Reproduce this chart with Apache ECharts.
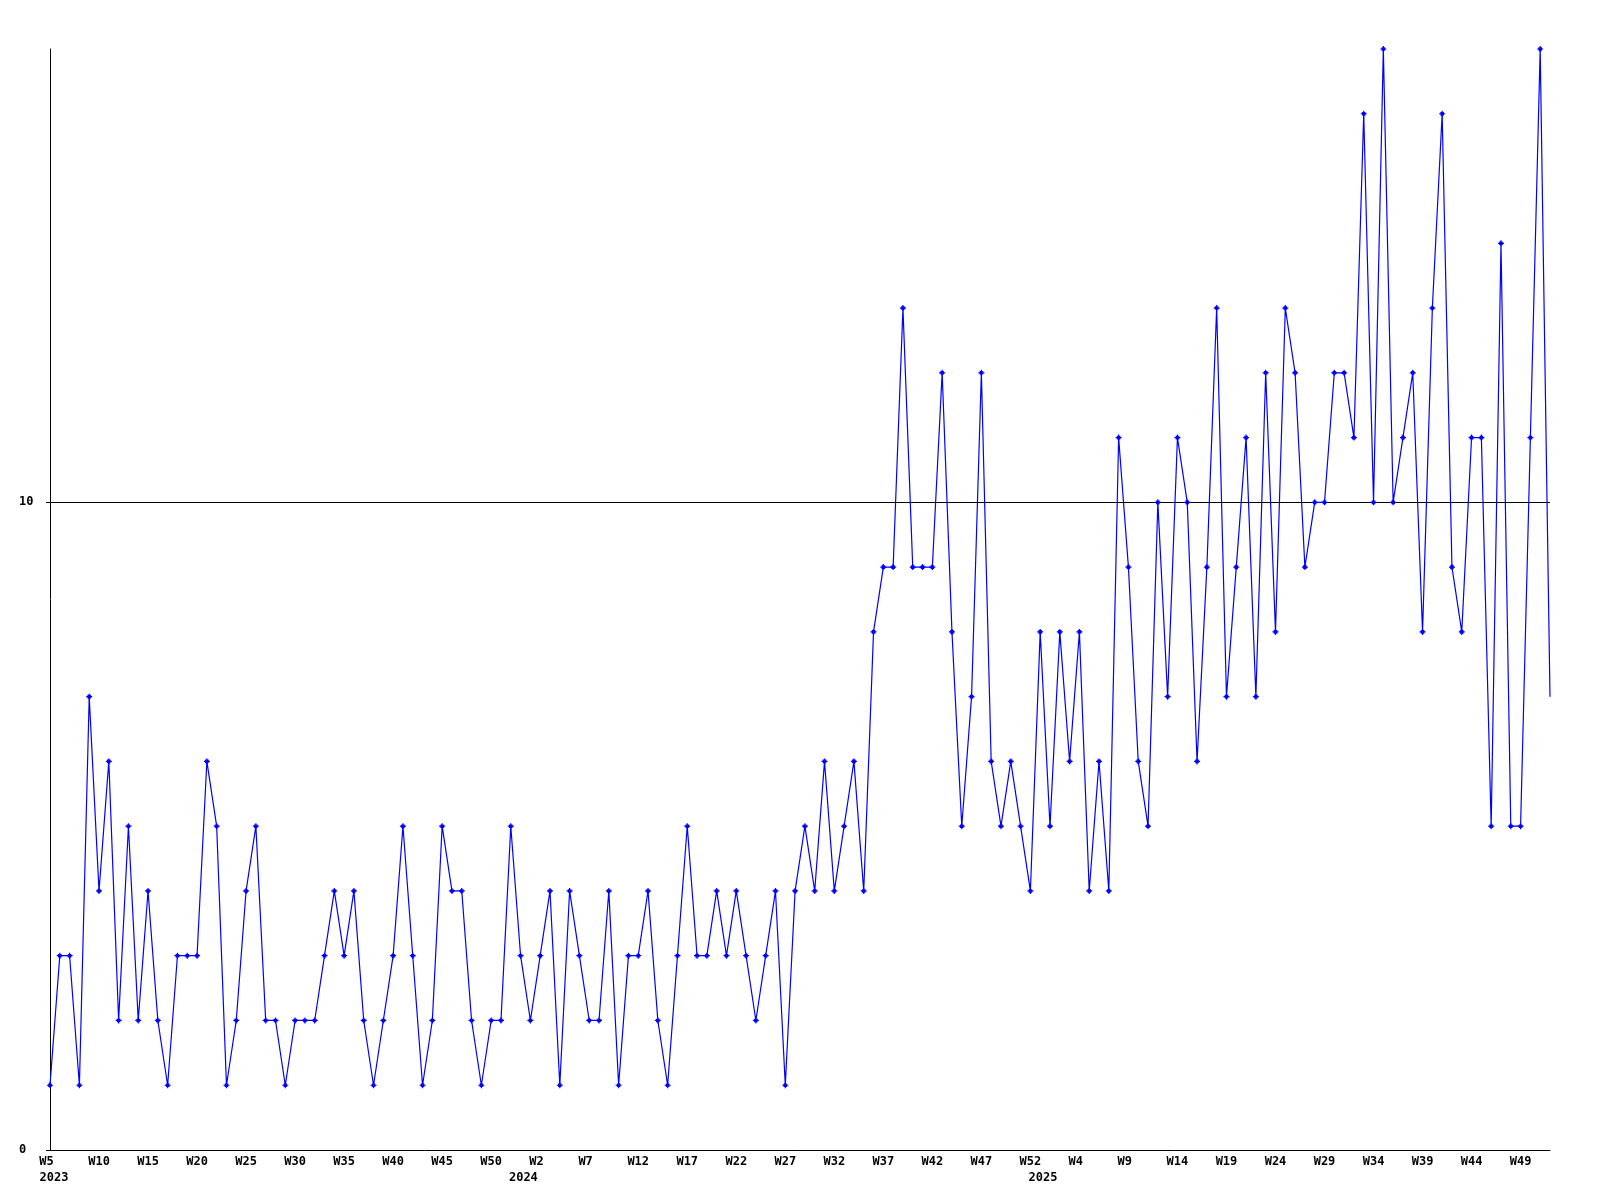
<!DOCTYPE html>
<html><head><meta charset="utf-8">
<script src="https://cdn.jsdelivr.net/npm/echarts@6/dist/echarts.min.js"></script>
<style>html,body{margin:0;padding:0;background:#fff}#c{width:1600px;height:1200px}</style>
</head><body><div id="c"></div>
<script>
// ---- data ----
const years = ['2023', '2024', '2025'];
const firstWeek = [5, 1, 1];
const lastWeek = [53, 53, 52];
const values = [
  1,3,3,1,7,4,6,2,5,2,
  4,2,1,3,3,3,6,5,1,2,
  4,5,2,2,1,2,2,2,3,4,
  3,4,2,1,2,3,5,3,1,2,
  5,4,4,2,1,2,2,5,3,2,
  3,4,1,4,3,2,2,4,1,3,
  3,4,2,1,3,5,3,3,4,3,
  4,3,2,3,4,1,4,5,4,6,
  4,5,6,4,8,9,9,13,9,9,
  9,12,8,5,7,12,6,5,6,5,
  4,8,5,8,6,8,4,6,4,11,
  9,6,5,10,7,11,10,6,9,13,
  7,9,11,7,12,8,13,12,9,10,
  10,12,12,11,16,10,17,10,11,12,
  8,13,16,9,8,11,11,5,14,5,
  5,11,17,7
];
const yTicks = [0, 10];

// ---- build categories ----
const categories = [];
const yearAt = {};
years.forEach((y, k) => {
  for (let w = firstWeek[k]; w <= lastWeek[k]; w++) {
    if (w === firstWeek[k]) yearAt[categories.length] = y;
    categories.push(y + '-W' + w);
  }
});
categories.length = values.length;

const FONT = '"DejaVu Sans Mono", "Liberation Mono", monospace';

const chart = echarts.init(document.getElementById('c'), null, {renderer: 'canvas'});
chart.setOption({
  animation: false,
  backgroundColor: '#ffffff',
  grid: {left: 50, right: 50, top: 49, bottom: 50, containLabel: false},
  xAxis: [{
    type: 'category',
    data: categories,
    boundaryGap: false,
    axisLine: {show: true, lineStyle: {color: '#000', width: 1}},
    axisTick: {show: false},
    splitLine: {show: false},
    axisLabel: {
      interval: 4,
      margin: 6,
      color: '#000',
      fontFamily: FONT,
      fontWeight: 'bold',
      fontSize: 12,
      formatter: (v) => ('W' + v.split('-W')[1]).padEnd(3, ' ')
    }
  }, {
    type: 'category',
    data: categories,
    boundaryGap: false,
    position: 'bottom',
    offset: 16,
    axisLine: {show: false},
    axisTick: {show: false},
    splitLine: {show: false},
    axisLabel: {
      interval: (idx) => yearAt[idx] !== undefined,
      margin: 6,
      color: '#000',
      fontFamily: FONT,
      fontWeight: 'bold',
      fontSize: 12,
      formatter: (v, idx) => {
        const y = yearAt[idx];
        if (y === undefined) return '';
        return idx === 0 ? '{a|' + y + '}' : '{b|' + y + '}';
      },
      rich: {
        a: {fontFamily: FONT, fontWeight: 'bold', fontSize: 12, color: '#000', padding: [0, 0, 0, 8]},
        b: {fontFamily: FONT, fontWeight: 'bold', fontSize: 12, color: '#000', padding: [0, 14, 0, 0]}
      }
    }
  }],
  yAxis: {
    type: 'value',
    min: 0,
    max: 17,
    interval: 10,
    axisLine: {show: true, lineStyle: {color: '#000', width: 1}},
    axisTick: {show: true, customValues: yTicks, length: 4, lineStyle: {color: '#000', width: 1}},
    splitLine: {show: true, showMinLine: false, showMaxLine: true, lineStyle: {color: '#000', width: 1}},
    axisLabel: {
      customValues: yTicks,
      showMinLabel: true,
      showMaxLabel: true,
      align: 'left',
      margin: 31,
      color: '#000',
      fontFamily: FONT,
      fontWeight: 'bold',
      fontSize: 12,
      formatter: (v) => String(v)
    }
  },
  series: [{
    type: 'line',
    xAxisIndex: 0,
    data: values.map((v, i) => i === values.length - 1 ? {value: v, symbol: 'none'} : v),
    symbol: 'path://M2,0H3V1H4V2H5V3H4V4H3V5H2V4H1V3H0V2H1V1H2Z',
    symbolSize: 6,
    showAllSymbol: true,
    itemStyle: {color: '#0000ff'},
    lineStyle: {color: '#0000ff', width: 1.2},
    emphasis: {disabled: true}
  }]
});
</script>
</body></html>
